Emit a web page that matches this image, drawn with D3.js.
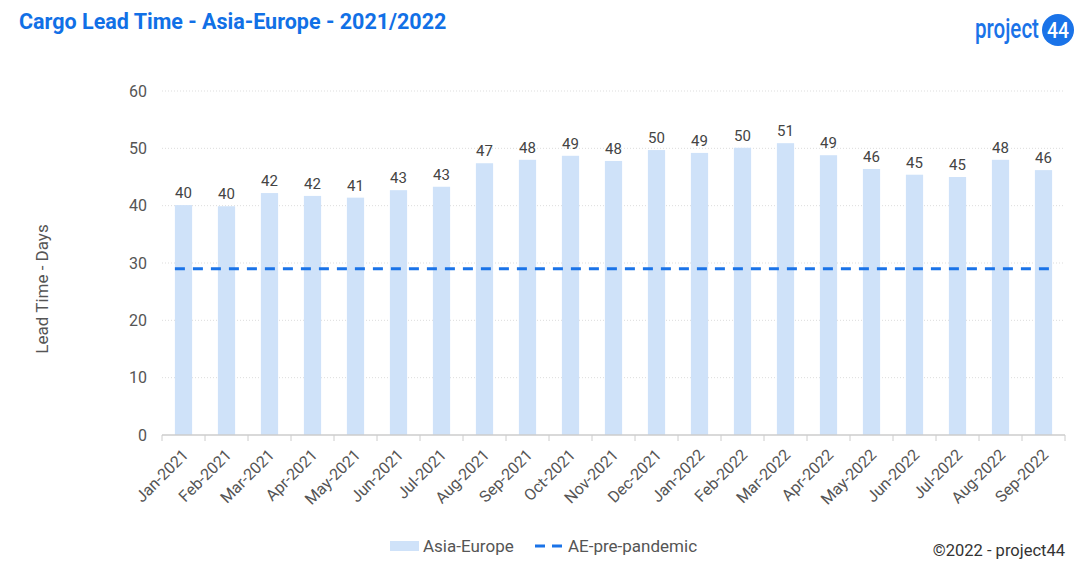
<!DOCTYPE html>
<html>
<head>
<meta charset="utf-8">
<script src="https://cdn.jsdelivr.net/npm/d3@7"></script>
<style>
  body { margin: 0; background: #fff; }
  text { font-family: Roboto, "Noto Sans", sans-serif; }
</style>
</head>
<body>
<svg id="chart" width="1080" height="567"></svg>
<script>
var months = ["Jan-2021", "Feb-2021", "Mar-2021", "Apr-2021", "May-2021", "Jun-2021", "Jul-2021",
	"Aug-2021", "Sep-2021", "Oct-2021", "Nov-2021", "Dec-2021", "Jan-2022", "Feb-2022", "Mar-2022",
	"Apr-2022", "May-2022", "Jun-2022", "Jul-2022", "Aug-2022", "Sep-2022"];
var leadTime = [40.1, 39.9, 42.2, 41.7, 41.4, 42.7, 43.3, 47.4, 48.0, 48.7, 47.8, 49.7, 49.2, 50.1, 50.9,
	48.8, 46.4, 45.4, 45.0, 48.0, 46.2];
var prePandemic = 29;
var yTicks = [0, 10, 20, 30, 40, 50, 60];

var svg = d3.select('#chart'),
	margin = { top: 91, right: 15, bottom: 132, left: 162 },
	width = +svg.attr('width') - margin.left - margin.right,
	height = +svg.attr('height') - margin.top - margin.bottom,
	g = svg.append("g").attr("transform", "translate(" + margin.left + "," + margin.top + ")");

var blue = "#1a73e8";

// title
svg.append("text")
	.attr("x", 19).attr("y", 29)
	.attr("fill", "#1170e6")
	.attr("font-size", 21.5)
	.attr("font-weight", "bold")
	.text("Cargo Lead Time - Asia-Europe - 2021/2022");

// logo (condensed by scaling the text horizontally)
function squeeze(sel, x, y, w) {
	var natural = sel.node().getComputedTextLength();
	sel.attr("transform", "translate(" + x + "," + y + ") scale(" + (w / natural) + ",1)");
}
var logo = svg.append("g");
var logoText = logo.append("text")
	.attr("fill", blue)
	.attr("font-size", 27)
	.attr("font-weight", 500)
	.text("project");
squeeze(logoText, 975, 38, 64);
logo.append("circle")
	.attr("cx", 1058).attr("cy", 30).attr("r", 16)
	.attr("fill", blue);
var logoNum = logo.append("text")
	.attr("fill", "#fff")
	.attr("font-size", 22)
	.attr("font-weight", 500)
	.text("44");
squeeze(logoNum, 1047, 38, 22);

var scaleX = d3.scaleBand().domain(months).range([0, width]).paddingInner(0.6).paddingOuter(0.3);
var scaleY = d3.scaleLinear().domain([0, 60]).range([height, 0]);

// gridlines
g.append("g").selectAll("line")
	.data(yTicks.filter(function (d) { return d > 0; }))
	.enter().append("line")
	.attr("x1", 0).attr("x2", width)
	.attr("y1", function (d) { return scaleY(d); })
	.attr("y2", function (d) { return scaleY(d); })
	.attr("stroke", "#ddd")
	.attr("stroke-dasharray", "1,2");

// y labels
g.append("g").selectAll("text")
	.data(yTicks)
	.enter().append("text")
	.attr("x", -15)
	.attr("y", function (d) { return scaleY(d); })
	.attr("dy", "0.35em")
	.attr("text-anchor", "end")
	.attr("font-size", 16)
	.attr("fill", "#555")
	.text(function (d) { return d; });

svg.append("text")
	.attr("transform", "translate(48,289) rotate(-90)")
	.attr("text-anchor", "middle")
	.attr("font-size", 17)
	.attr("fill", "#555")
	.text("Lead Time - Days");

// bars
g.append("g").selectAll("rect")
	.data(leadTime)
	.enter().append("rect")
	.attr("x", function (d, i) { return scaleX(months[i]); })
	.attr("y", function (d) { return scaleY(d); })
	.attr("width", scaleX.bandwidth())
	.attr("height", function (d) { return height - scaleY(d); })
	.attr("fill", "#cfe2f9");

// value labels
g.append("g").selectAll("text")
	.data(leadTime)
	.enter().append("text")
	.attr("x", function (d, i) { return scaleX(months[i]) + scaleX.bandwidth() / 2; })
	.attr("y", function (d) { return scaleY(d) - 7; })
	.attr("text-anchor", "middle")
	.attr("font-size", 15)
	.attr("fill", "#444")
	.text(function (d) { return Math.round(d); });

// x axis
var xAxis = g.append("g").attr("transform", "translate(0," + height + ")");
xAxis.append("line")
	.attr("x1", 0).attr("x2", width)
	.attr("stroke", "#ccc").attr("stroke-width", 1.5);
xAxis.selectAll("line.tick")
	.data(d3.range(months.length + 1))
	.enter().append("line")
	.attr("class", "tick")
	.attr("x1", function (i) { return i * width / months.length; })
	.attr("x2", function (i) { return i * width / months.length; })
	.attr("y1", 0).attr("y2", 6)
	.attr("stroke", "#ccc");
xAxis.selectAll("text")
	.data(months)
	.enter().append("text")
	.attr("transform", function (d) {
		return "translate(" + (scaleX(d) + scaleX.bandwidth() / 2 - 2) + ",13) rotate(-45)";
	})
	.attr("text-anchor", "end")
	.attr("dy", "0.7em")
	.attr("font-size", 16)
	.attr("fill", "#555")
	.text(function (d) { return d; });

// pre-pandemic dashed line
var line = d3.line()
	.x(function (d) { return d.x; })
	.y(function (d) { return scaleY(d.y); });
g.append("path")
	.datum([
		{ x: scaleX(months[0]), y: prePandemic },
		{ x: scaleX(months[months.length - 1]) + scaleX.bandwidth(), y: prePandemic }
	])
	.attr("d", line)
	.attr("fill", "none")
	.attr("stroke", blue)
	.attr("stroke-width", 3)
	.attr("stroke-dasharray", "10,8");

// legend
var legend = svg.append("g");
legend.append("rect")
	.attr("x", 390).attr("y", 541).attr("width", 29).attr("height", 10)
	.attr("fill", "#cfe2f9");
legend.append("text")
	.attr("x", 423).attr("y", 552)
	.attr("font-size", 17).attr("fill", "#555")
	.text("Asia-Europe");
legend.append("line")
	.attr("x1", 535).attr("x2", 565).attr("y1", 546).attr("y2", 546)
	.attr("stroke", blue).attr("stroke-width", 3)
	.attr("stroke-dasharray", "10,7");
legend.append("text")
	.attr("x", 568).attr("y", 552)
	.attr("font-size", 17).attr("fill", "#555")
	.text("AE-pre-pandemic");

svg.append("text")
	.attr("x", 1065).attr("y", 556)
	.attr("text-anchor", "end")
	.attr("font-size", 16.5).attr("fill", "#333")
	.text("©2022 - project44");
</script>
</body>
</html>
